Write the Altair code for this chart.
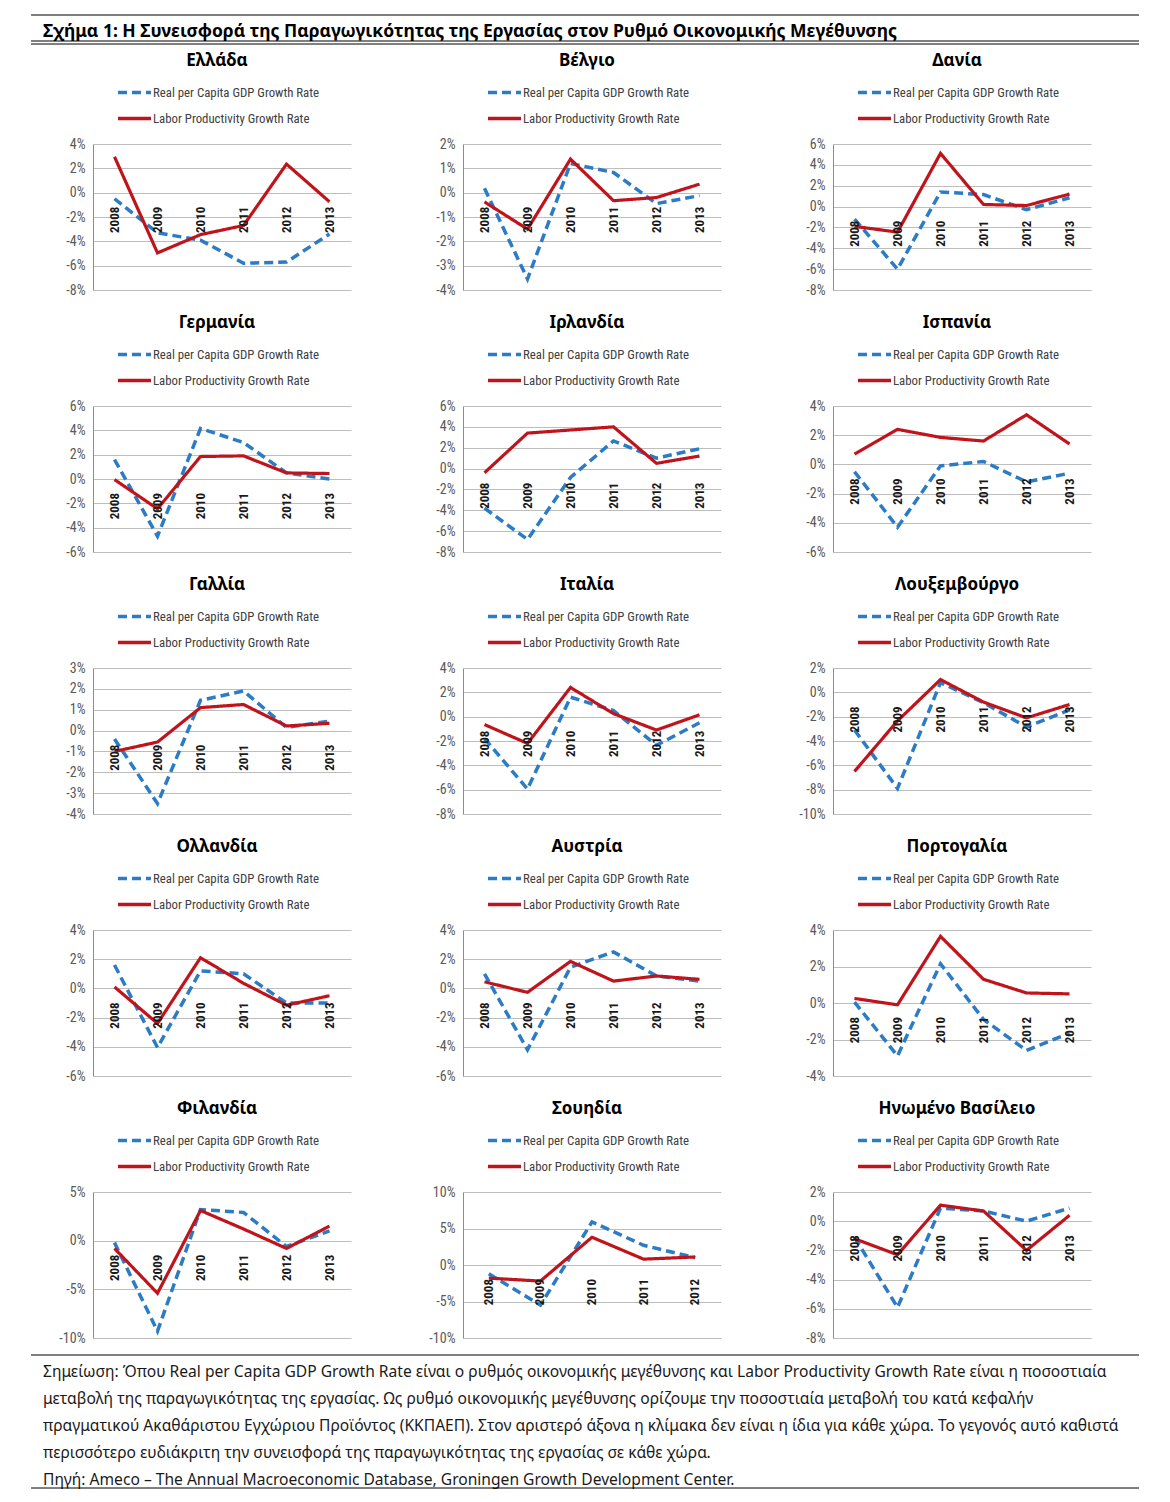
import altair as alt
import pandas as pd

# ---------------- data ----------------
YEARS = ["2008", "2009", "2010", "2011", "2012", "2013"]
YEARS_SE = ["2008", "2009", "2010", "2011", "2012"]
S_GDP = "Real per Capita GDP Growth Rate"
S_LAB = "Labor Productivity Growth Rate"

greece_gdp = [-0.5, -3.3, -3.9, -5.8, -5.7, -3.4]
greece_lab = [2.95, -4.95, -3.45, -2.7, 2.35, -0.75]
belgium_gdp = [0.18, -3.55, 1.2, 0.83, -0.45, -0.12]
belgium_lab = [-0.38, -1.5, 1.38, -0.33, -0.2, 0.35]
denmark_gdp = [-1.2, -6.0, 1.4, 1.15, -0.3, 0.85]
denmark_lab = [-1.9, -2.45, 5.1, 0.2, 0.1, 1.2]
germany_gdp = [1.6, -4.7, 4.15, 3.0, 0.5, 0.0]
germany_lab = [-0.05, -2.45, 1.85, 1.9, 0.5, 0.45]
ireland_gdp = [-3.8, -6.8, -0.85, 2.65, 1.0, 1.9]
ireland_lab = [-0.4, 3.4, 3.7, 4.0, 0.5, 1.2]
spain_gdp = [-0.5, -4.3, -0.1, 0.2, -1.2, -0.6]
spain_lab = [0.7, 2.4, 1.85, 1.6, 3.4, 1.4]
france_gdp = [-0.4, -3.5, 1.45, 1.9, 0.15, 0.45]
france_lab = [-1.0, -0.55, 1.1, 1.25, 0.22, 0.35]
italy_gdp = [-1.8, -5.95, 1.6, 0.5, -2.35, -0.5]
italy_lab = [-0.65, -2.2, 2.4, 0.25, -1.1, 0.15]
luxembourg_gdp = [-3.1, -7.9, 0.8, -0.85, -2.85, -1.45]
luxembourg_lab = [-6.5, -2.35, 1.05, -0.8, -2.1, -1.0]
netherlands_gdp = [1.6, -4.05, 1.2, 1.0, -1.0, -1.0]
netherlands_lab = [0.1, -2.4, 2.1, 0.35, -1.15, -0.5]
austria_gdp = [1.0, -4.2, 1.45, 2.5, 0.85, 0.5]
austria_lab = [0.45, -0.27, 1.85, 0.5, 0.85, 0.62]
portugal_gdp = [0.05, -2.9, 2.15, -0.9, -2.6, -1.65]
portugal_lab = [0.25, -0.1, 3.65, 1.3, 0.55, 0.5]
finland_gdp = [-0.2, -9.3, 3.2, 2.9, -0.6, 1.0]
finland_lab = [-0.8, -5.4, 3.1, 1.2, -0.8, 1.5]
sweden_gdp = [-1.2, -5.5, 5.9, 2.7, 1.0]
sweden_lab = [-1.8, -2.2, 3.8, 0.8, 1.1]
uk_gdp = [-1.1, -5.9, 0.9, 0.7, 0.0, 0.9]
uk_lab = [-1.2, -2.3, 1.1, 0.7, -2.0, 0.4]

# (title, years, gdp, labour, y-min, y-max, tick step)
PANELS = [
    ("Ελλάδα", YEARS, greece_gdp, greece_lab, -8, 4, 2),
    ("Βέλγιο", YEARS, belgium_gdp, belgium_lab, -4, 2, 1),
    ("Δανία", YEARS, denmark_gdp, denmark_lab, -8, 6, 2),
    ("Γερμανία", YEARS, germany_gdp, germany_lab, -6, 6, 2),
    ("Ιρλανδία", YEARS, ireland_gdp, ireland_lab, -8, 6, 2),
    ("Ισπανία", YEARS, spain_gdp, spain_lab, -6, 4, 2),
    ("Γαλλία", YEARS, france_gdp, france_lab, -4, 3, 1),
    ("Ιταλία", YEARS, italy_gdp, italy_lab, -8, 4, 2),
    ("Λουξεμβούργο", YEARS, luxembourg_gdp, luxembourg_lab, -10, 2, 2),
    ("Ολλανδία", YEARS, netherlands_gdp, netherlands_lab, -6, 4, 2),
    ("Αυστρία", YEARS, austria_gdp, austria_lab, -6, 4, 2),
    ("Πορτογαλία", YEARS, portugal_gdp, portugal_lab, -4, 4, 2),
    ("Φιλανδία", YEARS, finland_gdp, finland_lab, -10, 5, 5),
    ("Σουηδία", YEARS_SE, sweden_gdp, sweden_lab, -10, 10, 5),
    ("Ηνωμένο Βασίλειο", YEARS, uk_gdp, uk_lab, -8, 2, 2),
]

HEADER = "Σχήμα 1: Η Συνεισφορά της Παραγωγικότητας της Εργασίας στον Ρυθμό Οικονομικής Μεγέθυνσης"
NOTE_LINES = [
    "Σημείωση: Όπου Real per Capita GDP Growth Rate είναι ο ρυθμός οικονομικής μεγέθυνσης και Labor Productivity Growth Rate είναι η ποσοστιαία",
    "μεταβολή της παραγωγικότητας της εργασίας. Ως ρυθμό οικονομικής μεγέθυνσης ορίζουμε την ποσοστιαία μεταβολή του κατά κεφαλήν",
    "πραγματικού Ακαθάριστου Εγχώριου Προϊόντος (ΚΚΠΑΕΠ). Στον αριστερό άξονα η κλίμακα δεν είναι η ίδια για κάθε χώρα. Το γεγονός αυτό καθιστά",
    "περισσότερο ευδιάκριτη την συνεισφορά της παραγωγικότητας της εργασίας σε κάθε χώρα.",
    "Πηγή: Ameco – The Annual Macroeconomic Database, Groningen Growth Development Center.",
]

# ---------------- style ----------------
BLUE = "#2B7BC5"
RED = "#C0141C"
NARROW = "Liberation Sans Narrow, Roboto Condensed, Arial Narrow, sans-serif"
TITLE_FONT = "Noto Sans"
W_PLOT, H_PLOT = 258, 146
LEFT = 62          # room for the y-axis of the first column
TOTAL_W = 1108     # width of the header / footer rules


def panel(title, years, gdp, lab, lo, hi, step, extent):
    n = len(years)
    df = pd.DataFrame({
        "year": years + years,
        "value": gdp + lab,
        "series": [S_GDP] * n + [S_LAB] * n,
    })
    ticks = list(range(lo, hi + step, step))
    x = alt.X("year:N", sort=years, scale=alt.Scale(type="point", padding=0.5), axis=None)
    y = alt.Y(
        "value:Q",
        scale=alt.Scale(domain=[lo, hi], nice=False, zero=False),
        axis=alt.Axis(
            values=ticks, tickCount=40, labelExpr="datum.value + '%'", title=None, grid=True,
            gridColor="#BDBDBD", gridWidth=1, domainColor="#8C8C8C", ticks=False,
            labelColor="#595959", labelFont=NARROW, labelFontSize=14, labelPadding=8,
            minExtent=extent, maxExtent=extent, labelOverlap=False,
        ),
    )
    legend = alt.Legend(
        title=None, orient="none", legendX=23, legendY=-70, direction="vertical",
        symbolType="stroke", symbolSize=1089, symbolStrokeWidth=3.5,
        labelFont=NARROW, labelFontSize=12.8, labelColor="#404040", labelOffset=0,
        labelLimit=0, rowPadding=-11, padding=0,
    )
    color = alt.Color("series:N", scale=alt.Scale(domain=[S_GDP, S_LAB], range=[BLUE, RED]), legend=legend)
    dash = alt.StrokeDash("series:N", scale=alt.Scale(domain=[S_GDP, S_LAB], range=[[9, 5], [1, 0]]), legend=legend)

    base = alt.Chart(df)
    blue = base.transform_filter(alt.datum.series == S_GDP).mark_line(strokeWidth=3.5).encode(
        x=x, y=y, color=color, strokeDash=dash)
    red = base.transform_filter(alt.datum.series == S_LAB).mark_line(strokeWidth=3.2).encode(
        x=x, y=y, color=color, strokeDash=dash)
    labels = alt.Chart(pd.DataFrame({"year": years})).mark_text(
        angle=270, align="right", baseline="middle", dx=-14,
        font=NARROW, fontSize=13, fontWeight="bold", color="#1A1A1A",
    ).encode(x=x, y=alt.datum(0), text="year:N")

    return alt.layer(blue, red, labels).properties(
        width=W_PLOT, height=H_PLOT,
        title=alt.TitleParams(text=title, font=TITLE_FONT, fontSize=17, fontWeight="bold",
                              color="#000000", anchor="middle", frame="group", offset=4, dx=-5),
    )


IND = dict(color="independent", strokeDash="independent")

rows = []
for r in range(5):
    items = []
    for c in range(3):
        p = PANELS[r * 3 + c]
        items.append(panel(*p, extent=LEFT if c == 0 else 38))
    rows.append(alt.hconcat(*items, spacing=74).resolve_scale(**IND).resolve_legend(**IND))
grid = alt.vconcat(*rows, spacing=17).resolve_scale(**IND).resolve_legend(**IND)

# header
hdf = pd.DataFrame({"t": [HEADER]})
hbase = alt.Chart(hdf)
X0, X1 = -LEFT, TOTAL_W - LEFT
header = alt.layer(
    hbase.mark_rule(color="#000", strokeWidth=1).encode(x=alt.value(X0), x2=alt.value(X1), y=alt.value(0)),
    hbase.mark_text(align="left", baseline="alphabetic", font=TITLE_FONT, fontSize=17.5,
                    fontWeight="bold", color="#000").encode(x=alt.value(X0 + 12), y=alt.value(22), text="t:N"),
    hbase.mark_rule(color="#000", strokeWidth=1.2).encode(x=alt.value(X0), x2=alt.value(X1), y=alt.value(26)),
    hbase.mark_rule(color="#000", strokeWidth=1).encode(x=alt.value(X0), x2=alt.value(X1), y=alt.value(29)),
).properties(width=X1, height=30)

# footer
FH = 136
fdf = pd.DataFrame({"i": list(range(len(NOTE_LINES))), "line": NOTE_LINES})
fbase = alt.Chart(fdf)
rdf = alt.Chart(pd.DataFrame({"k": [0]}))
footer = alt.layer(
    rdf.mark_rule(color="#000", strokeWidth=1).encode(x=alt.value(X0), x2=alt.value(X1), y=alt.value(3)),
    fbase.mark_text(align="left", baseline="middle", font=TITLE_FONT, fontSize=15.6, color="#1A1A1A", dy=6).encode(
        x=alt.value(X0 + 12),
        y=alt.Y("i:O", axis=None, scale=alt.Scale(paddingInner=0, paddingOuter=0)),
        text="line:N"),
    rdf.mark_rule(color="#000", strokeWidth=1).encode(x=alt.value(X0), x2=alt.value(X1), y=alt.value(FH)),
).properties(width=X1, height=FH)

chart = alt.vconcat(header, grid, footer, spacing=7).resolve_scale(**IND).resolve_legend(**IND).properties(
    padding={"left": 22, "top": 6, "right": 5, "bottom": 5}
).configure_view(stroke=None)

chart.save("out.html", embed_options={"renderer": "svg", "actions": False})
